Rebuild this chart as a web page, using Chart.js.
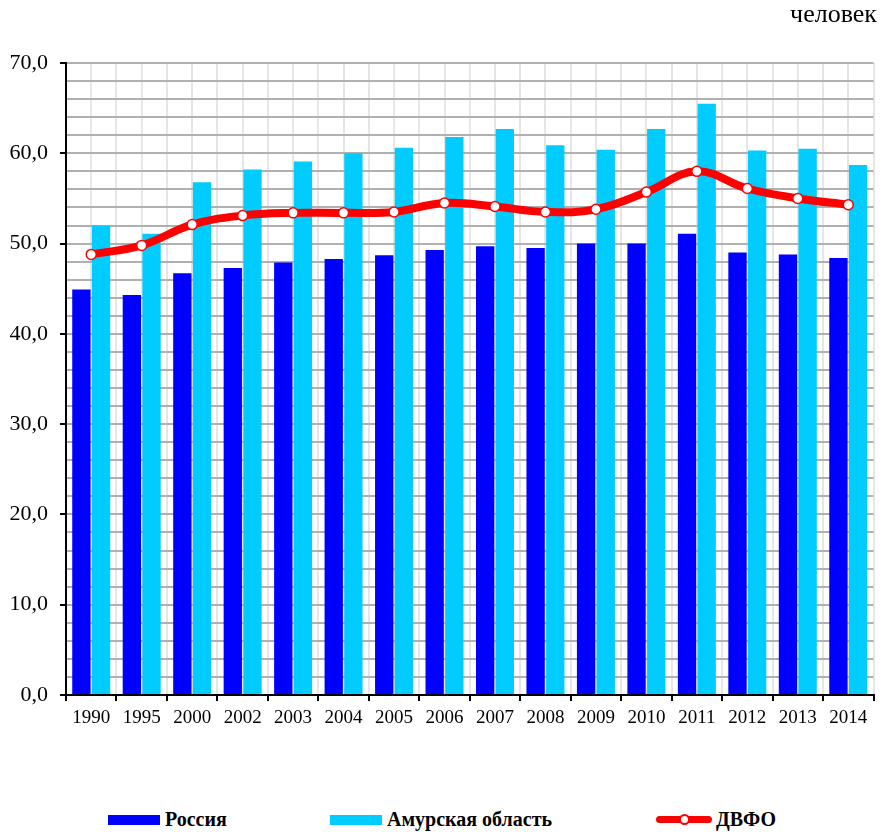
<!DOCTYPE html>
<html lang="ru">
<head>
<meta charset="utf-8">
<title>Россия, Амурская область, ДВФО</title>
<script src="https://cdn.jsdelivr.net/npm/chart.js@4.4.1/dist/chart.umd.min.js"></script>
<style>
  html, body { margin: 0; padding: 0; background: #fff; }
  #wrap { position: relative; width: 880px; height: 832px; font-family: 'Liberation Serif', 'Times New Roman', serif; }
  #box { position: absolute; left: 0; top: 0; width: 880px; height: 745px; }
  #unit { position: absolute; right: 3px; top: -1px; font-size: 26px; color: #000; }
  .leg { position: absolute; top: 808px; display: flex; align-items: center; font-weight: bold; font-size: 20px; color: #000; }
  .sw { width: 52px; height: 10px; margin-right: 5px; }
  .ln { position: relative; width: 56px; height: 7px; margin-right: 4px; background: #ff0000; border-radius: 4px; }
  .ln::after { content: ''; position: absolute; left: 23px; top: -2px; width: 11px; height: 11px; border: 2px solid #ff0000; border-radius: 50%; background: #fff; box-sizing: border-box; }
</style>
</head>
<body>
<div id="wrap">
  <div id="box"><canvas id="chart"></canvas></div>
  <div id="unit">человек</div>
  <div class="leg" style="left:108px"><span class="sw" style="background:#0000ff"></span>Россия</div>
  <div class="leg" style="left:330px"><span class="sw" style="background:#00ccff"></span>Амурская область</div>
  <div class="leg" style="left:656px"><span class="ln"></span>ДВФО</div>
</div>
<script>
const years = ['1990', '1995', '2000', '2002', '2003', '2004', '2005', '2006', '2007', '2008', '2009', '2010', '2011', '2012', '2013', '2014'];
const russia = [44.9, 44.3, 46.7, 47.3, 47.9, 48.3, 48.7, 49.3, 49.7, 49.5, 50.0, 50.0, 51.1, 49.0, 48.8, 48.4];
const amur = [52.0, 51.1, 56.8, 58.2, 59.1, 60.0, 60.6, 61.8, 62.7, 60.9, 60.4, 62.7, 65.5, 60.3, 60.5, 58.7];
const dvfo = [48.8, 49.8, 52.1, 53.1, 53.4, 53.4, 53.5, 54.5, 54.1, 53.5, 53.8, 55.7, 58.0, 56.1, 55.0, 54.3];
const yMax = 70;
const yStep = 2;

const serif = "'Liberation Serif', 'Times New Roman', serif";

new Chart(document.getElementById('chart'), {
  type: 'bar',
  data: {
    labels: years,
    datasets: [
      {
        type: 'line',
        label: 'ДВФО',
        data: dvfo,
        borderColor: '#ff0000',
        borderWidth: 8,
        tension: 0.4,
        pointRadius: 5,
        pointBackgroundColor: '#ffffff',
        pointBorderColor: '#ff0000',
        pointBorderWidth: 1.5,
        order: 0
      },
      {
        label: 'Россия',
        data: russia,
        backgroundColor: '#0000ff',
        categoryPercentage: 0.78,
        barPercentage: 0.93,
        order: 1
      },
      {
        label: 'Амурская область',
        data: amur,
        backgroundColor: '#00ccff',
        categoryPercentage: 0.78,
        barPercentage: 0.93,
        order: 1
      }
    ]
  },
  options: {
    responsive: true,
    maintainAspectRatio: false,
    animation: false,
    layout: {
      padding: { left: 0, right: 3, top: 63, bottom: 0 }
    },
    plugins: {
      legend: { display: false },
      tooltip: { enabled: false }
    },
    scales: {
      x: {
        offset: true,
        grid: {
          offset: true,
          color: '#e6e6e6',
          lineWidth: 2,
          tickColor: '#000',
          tickLength: 6
        },
        border: { color: '#000', width: 2 },
        ticks: {
          color: '#000',
          padding: 6,
          maxRotation: 0,
          autoSkip: false,
          font: { family: serif, size: 19 }
        },
        afterFit: function(scale) { scale.height = 50; }
      },
      x2: {
        type: 'category',
        labels: years,
        position: 'bottom',
        offset: true,
        grid: {
          offset: false,
          color: '#e6e6e6',
          lineWidth: 2,
          drawTicks: false
        },
        border: { display: false },
        ticks: { display: false },
        afterFit: function(scale) { scale.height = 0; }
      },
      y: {
        min: 0,
        max: yMax,
        grid: {
          color: function(ctx) { return ctx.tick && ctx.tick.value === 0 ? '#000' : '#b0b0b0'; },
          lineWidth: 2,
          tickLength: 6,
          tickColor: function(ctx) { return ctx.tick && ctx.tick.value % 10 === 0 ? '#000' : 'rgba(0,0,0,0)'; }
        },
        border: { color: '#000', width: 2 },
        ticks: {
          stepSize: yStep,
          autoSkip: false,
          color: '#000',
          padding: 12,
          font: { family: serif, size: 22 },
          callback: function(v) { return v % 10 === 0 ? v.toFixed(1).replace('.', ',') : ''; }
        },
        afterFit: function(scale) { scale.width = 66; }
      }
    }
  }
});
</script>
</body>
</html>
